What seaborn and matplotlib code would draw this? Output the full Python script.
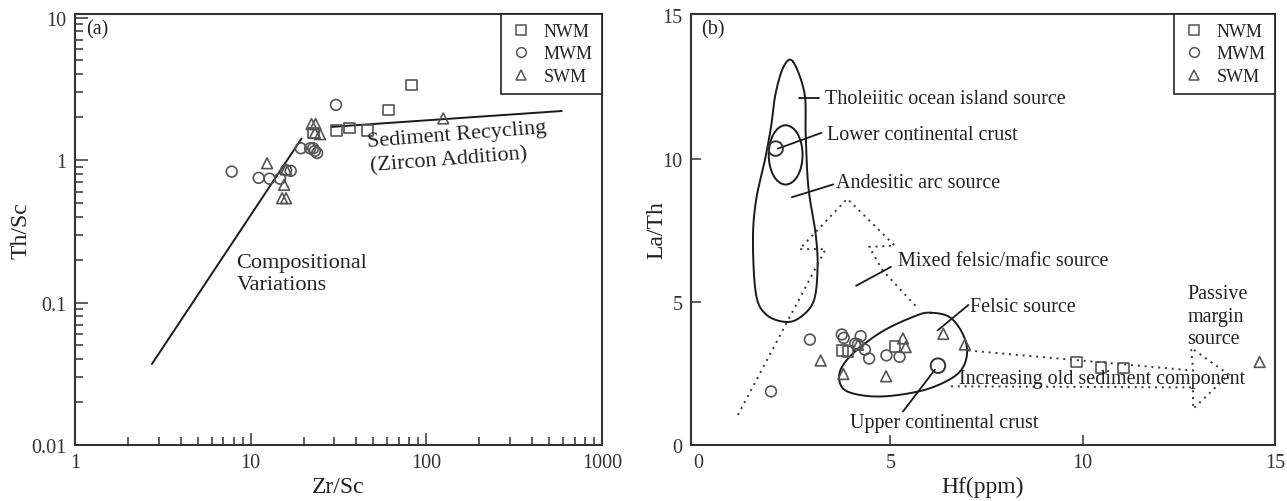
"""
Th/Sc vs Zr/Sc and La/Th vs Hf provenance diagrams for the NWM / MWM / SWM samples.
Saves the two-panel figure to out.png.
"""

import numpy as np
import pandas as pd
import matplotlib
matplotlib.use("Agg")
import matplotlib.pyplot as plt
import seaborn as sns
from matplotlib.lines import Line2D
from matplotlib.patches import Ellipse
from matplotlib.ticker import LogLocator, NullFormatter

GROUPS = ["NWM", "MWM", "SWM"]
MARKERS = {"NWM": "s", "MWM": "o", "SWM": "^"}

# ---------------------------------------------------------------
# (a) Th/Sc vs Zr/Sc
# ---------------------------------------------------------------
nwm_zr = [82.5, 60.7, 30.9, 36.7, 46.1, 22.7]
nwm_th = [3.36, 2.25, 1.62, 1.68, 1.61, 1.55]
mwm_zr = [30.6, 7.8, 11.1, 12.8, 14.7, 15.9, 16.9, 19.3, 21.8, 22.7, 23.2, 23.9]
mwm_th = [2.44, 0.83, 0.75, 0.74, 0.74, 0.85, 0.84, 1.21, 1.21, 1.21, 1.16, 1.12]
swm_zr = [124.8, 22.2, 23.4, 23.2, 24.8, 12.4, 15.9, 15.5, 15.1, 15.9]
swm_th = [1.96, 1.79, 1.79, 1.55, 1.52, 0.95, 0.86, 0.67, 0.54, 0.54]

comp_line_zr = [2.74, 19.5]
comp_line_th = [0.037, 1.42]
recyc_line_zr = [28.9, 590]
recyc_line_th = [1.71, 2.21]

# ---------------------------------------------------------------
# (b) La/Th vs Hf
# ---------------------------------------------------------------
nwm_hf = [3.76, 3.90, 5.12, 9.85, 10.48, 11.07]
nwm_lath = [3.30, 3.27, 3.45, 2.90, 2.71, 2.69]
mwm_hf = [2.91, 1.90, 3.74, 3.79, 4.23, 4.09, 4.16, 4.34, 4.45, 4.90, 5.24]
mwm_lath = [3.68, 1.87, 3.86, 3.74, 3.80, 3.54, 3.51, 3.33, 3.02, 3.13, 3.08]
swm_hf = [3.19, 3.78, 4.16, 4.89, 5.33, 5.40, 6.38, 6.94, 14.6]
swm_lath = [2.95, 2.48, 3.50, 2.40, 3.72, 3.42, 3.88, 3.51, 2.90]

# reference crust compositions (lower / upper continental crust)
crust_hf = [2.02, 6.24]
crust_lath = [10.35, 2.77]

# source field outlines
tholeiite_hf = [2.47, 2.77, 2.80, 2.87, 3.06, 3.11, 3.01, 2.64, 2.25, 1.77, 1.51, 1.43, 1.51, 1.74, 1.90, 2.02, 2.23]
tholeiite_lath = [13.39, 12.28, 10.88, 9.01, 7.37, 6.20, 5.03, 4.44, 4.30, 4.56, 5.26, 7.13, 8.54, 9.94, 11.11, 12.28, 13.22]
felsic_hf = [6.05, 6.57, 6.93, 6.98, 6.73, 6.05, 5.23, 4.50, 3.88, 3.68, 3.73, 4.09, 4.81, 5.64]
felsic_lath = [4.62, 4.44, 3.74, 3.04, 2.46, 1.99, 1.75, 1.70, 1.87, 2.22, 2.69, 3.27, 3.98, 4.50]
lcc_field = (2.28, 10.13, 0.88, 2.07)  # centre hf, centre la/th, width, height

arc_arrow_hf = [1.04, 3.32, 2.64, 3.88, 5.12, 4.45, 4.81, 5.74]
arc_arrow_lath = [1.05, 6.84, 6.84, 8.60, 6.96, 6.92, 6.08, 4.74]
passive_arrow_hf = [7.03, 12.87, 12.82, 13.80, 12.87, 12.87, 6.57]
passive_arrow_lath = [3.30, 2.60, 3.39, 2.46, 1.26, 2.01, 2.05]

# leader lines and labels: (label, line hf, line la/th, text hf, text la/th)
labels_b = [
    ("Tholeiitic ocean island source", [2.64, 3.16], [12.1, 12.1], 3.30, 12.1),
    ("Lower continental crust", [2.08, 3.21], [10.35, 10.90], 3.35, 10.85),
    ("Andesitic arc source", [2.44, 3.52], [8.65, 9.10], 3.58, 9.15),
    ("Mixed felsic/mafic source", [4.11, 5.02], [5.56, 6.22], 5.20, 6.45),
    ("Felsic source", [6.23, 7.03], [4.00, 4.89], 7.07, 4.85),
    ("Upper continental crust", [5.33, 6.16], [1.17, 2.63], 3.95, 0.80),
]

GRAY = "#555555"
DARK = "#222222"

sns.set_style("white")
plt.rcParams["font.family"] = ["Liberation Serif", "DejaVu Serif"]
plt.rcParams["text.color"] = DARK
plt.rcParams["axes.labelcolor"] = DARK
plt.rcParams["xtick.color"] = "#333333"
plt.rcParams["ytick.color"] = "#333333"


def make_df(xs, ys):
    rows = []
    for g, (x, y) in zip(GROUPS, zip(xs, ys)):
        rows.append(pd.DataFrame({"x": x, "y": y, "group": g}))
    return pd.concat(rows, ignore_index=True)


def closed_curve(xs, ys, n=24):
    # smooth closed outline through the traced points (Catmull-Rom)
    p = np.column_stack([xs, ys])
    k = len(p)
    t = np.linspace(0, 1, n, endpoint=False)[:, None]
    out = []
    for i in range(k):
        p0, p1, p2, p3 = p[i - 1], p[i], p[(i + 1) % k], p[(i + 2) % k]
        out.append(0.5 * (2 * p1 + (-p0 + p2) * t + (2 * p0 - 5 * p1 + 4 * p2 - p3) * t ** 2
                          + (-p0 + 3 * p1 - 3 * p2 + p3) * t ** 3))
    out = np.vstack(out + [out[0][:1]])
    return out[:, 0], out[:, 1]


def draw_points(ax, df):
    sns.scatterplot(data=df, x="x", y="y", style="group", style_order=GROUPS, markers=MARKERS,
                    s=60, facecolor="none", edgecolor=GRAY, linewidth=1.2, legend=False,
                    ax=ax, zorder=3)


def add_legend(ax):
    handles = [Line2D([], [], marker=MARKERS[g], ls="none", mfc="none", mec=GRAY, ms=7, mew=1.1)
               for g in GROUPS]
    leg = ax.legend(handles, GROUPS, loc="upper right", borderaxespad=0, fancybox=False,
                    edgecolor=DARK, framealpha=1, fontsize=13, handletextpad=0.7,
                    labelspacing=0.3, borderpad=0.5, handlelength=1.2)
    leg.get_frame().set_linewidth(1.2)


def style_frame(ax):
    for sp in ax.spines.values():
        sp.set_color("#333333")
        sp.set_linewidth(1.5)
    ax.tick_params(which="both", direction="in", bottom=True, left=True, top=False, right=False,
                   labelsize=14.5, pad=6)
    ax.tick_params(which="major", length=9, width=1.1)
    ax.tick_params(which="minor", length=6, width=1.1)


fig = plt.figure(figsize=(12.87, 5.02), dpi=100)
ax1 = fig.add_axes([75 / 1287, 1 - 446 / 502, 527 / 1287, 431 / 502])
ax2 = fig.add_axes([691 / 1287, 1 - 446 / 502, 584 / 1287, 431 / 502])

# ---- panel (a)
df_a = make_df([nwm_zr, mwm_zr, swm_zr], [nwm_th, mwm_th, swm_th])
ax1.set_xscale("log")
ax1.set_yscale("log")
draw_points(ax1, df_a)
ax1.plot(comp_line_zr, comp_line_th, color="#1a1a1a", lw=1.4)
ax1.plot(recyc_line_zr, recyc_line_th, color="#1a1a1a", lw=1.4)
ax1.set_xlim(1, 1000)
ax1.set_ylim(0.01, 10.6)
ax1.set_xticks([1, 10, 100, 1000], labels=["1", "10", "100", "1000"])
ax1.set_yticks([0.01, 0.1, 1, 10], labels=["0.01", "0.1", "1", "10"])
ax1.xaxis.set_minor_locator(LogLocator(base=10, subs=np.arange(2, 10)))
ax1.yaxis.set_minor_locator(LogLocator(base=10, subs=np.arange(2, 10)))
ax1.xaxis.set_minor_formatter(NullFormatter())
ax1.yaxis.set_minor_formatter(NullFormatter())
style_frame(ax1)
ax1.set_xlabel("Zr/Sc", fontsize=17)
ax1.set_ylabel("Th/Sc", fontsize=17)
ax1.xaxis.set_label_coords(0.5, -0.072)
ax1.yaxis.set_label_coords(-0.082, 0.5)
ax1.text(0.022, 0.965, "(a)", transform=ax1.transAxes, fontsize=14.5, va="center")
ax1.text(8.3, 0.19, "Compositional", fontsize=16, va="center")
ax1.text(8.3, 0.133, "Variations", fontsize=16, va="center")
ax1.text(46, 1.34, "Sediment Recycling", fontsize=16, va="center", rotation=4.5,
         rotation_mode="anchor")
ax1.text(48, 0.91, "(Zircon Addition)", fontsize=16, va="center", rotation=4.5,
         rotation_mode="anchor")
add_legend(ax1)

# ---- panel (b)
df_b = make_df([nwm_hf, mwm_hf, swm_hf], [nwm_lath, mwm_lath, swm_lath])
draw_points(ax2, df_b)
ax2.scatter(crust_hf, crust_lath, s=110, facecolor="none", edgecolor="#333333", linewidth=1.4, zorder=3)

tx, ty = closed_curve(tholeiite_hf, tholeiite_lath)
ax2.plot(tx, ty, color="#1a1a1a", lw=1.4)
fx, fy = closed_curve(felsic_hf, felsic_lath)
ax2.plot(fx, fy, color="#1a1a1a", lw=1.4)
cx, cy, w, h = lcc_field
ax2.add_patch(Ellipse((cx, cy), w, h, fill=False, ec="#1a1a1a", lw=1.4))

ax2.plot(arc_arrow_hf, arc_arrow_lath, color="#333333", lw=1.4, ls=(0, (1, 2.5)))
ax2.plot(passive_arrow_hf, passive_arrow_lath, color="#333333", lw=1.4, ls=(0, (1, 2.5)))

for text, lx, ly, txx, tyy in labels_b:
    ax2.plot(lx, ly, color="#1a1a1a", lw=1.3)
    ax2.text(txx, tyy, text, fontsize=14.5, va="center")
ax2.text(12.72, 4.5, "Passive\nmargin\nsource", fontsize=14.5, va="center", linespacing=1.25)
ax2.text(6.78, 2.32, "Increasing old sediment component", fontsize=14.5, va="center")
ax2.text(0.018, 0.965, "(b)", transform=ax2.transAxes, fontsize=14.5, va="center")

ax2.set_xlim(-0.18, 14.87)
ax2.set_ylim(0, 15.05)
ax2.set_xticks([0, 5, 10, 15])
ax2.set_yticks([0, 5, 10, 15])
style_frame(ax2)
ax2.tick_params(which="major", length=7)
# no tick marks at the frame corners, only the labels
for tk in (ax2.xaxis.get_major_ticks()[0], ax2.xaxis.get_major_ticks()[-1],
           ax2.yaxis.get_major_ticks()[0], ax2.yaxis.get_major_ticks()[-1]):
    tk.tick1line.set_visible(False)
ax2.set_xlabel("Hf(ppm)", fontsize=17)
ax2.set_ylabel("La/Th", fontsize=17)
ax2.xaxis.set_label_coords(0.5, -0.072)
ax2.yaxis.set_label_coords(-0.04, 0.5)
add_legend(ax2)

fig.savefig("out.png", dpi=100)
